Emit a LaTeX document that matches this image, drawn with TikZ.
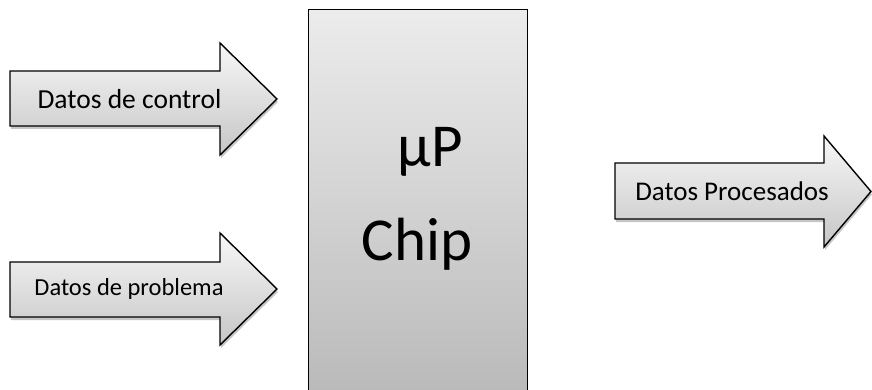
\documentclass[tikz,border=0pt]{standalone}
\usepackage{fontspec}
\setmainfont{Carlito}
\usetikzlibrary{shadows}

\begin{document}
\begin{tikzpicture}[x=1pt,y=-1pt,
    flecha/.style={draw=black, line width=1.4pt, line join=miter,
      top color=gray!6, bottom color=gray!45,
      drop shadow={shadow xshift=1pt, shadow yshift=-3pt, opacity=0.45, fill=gray}},
    chip/.style={draw=black, line width=1.4pt, top color=gray!15, bottom color=gray!55},
    etiqueta/.style={inner sep=0pt, text=black}]
    \useasboundingbox (0,0) rectangle (872,390);

    % Chip
    \node[chip, minimum width=219pt, minimum height=390pt, anchor=north west] (chip) at (308,9) {};
    \node[etiqueta, font=\fontsize{61}{63}\selectfont] (up) at (430,152) {µP};
    \node[etiqueta, font=\fontsize{61}{63}\selectfont] (chiptxt) at (417,244) {Chip};

    % Flechas de entrada
    \path[flecha] (10,71) -- (220,71) -- (220,43) -- (277,99) -- (220,155) -- (220,126) -- (10,126) -- cycle;
    \path[flecha] (10,262) -- (220,262) -- (220,233) -- (277,289) -- (220,345) -- (220,317) -- (10,317) -- cycle;

    % Flecha de salida
    \path[flecha] (615,163) -- (824,163) -- (824,136) -- (871,191.5) -- (824,247) -- (824,219) -- (615,219) -- cycle;

    % Textos
    \node[etiqueta, font=\fontsize{27.5}{29}\selectfont] (control) at (129.5,99) {Datos de control};
    \node[etiqueta, font=\fontsize{24.5}{26}\selectfont] (problema) at (129,289) {Datos de problema};
    \node[etiqueta, font=\fontsize{27}{29}\selectfont] (procesados) at (732,191) {Datos Procesados};
\end{tikzpicture}
\end{document}
